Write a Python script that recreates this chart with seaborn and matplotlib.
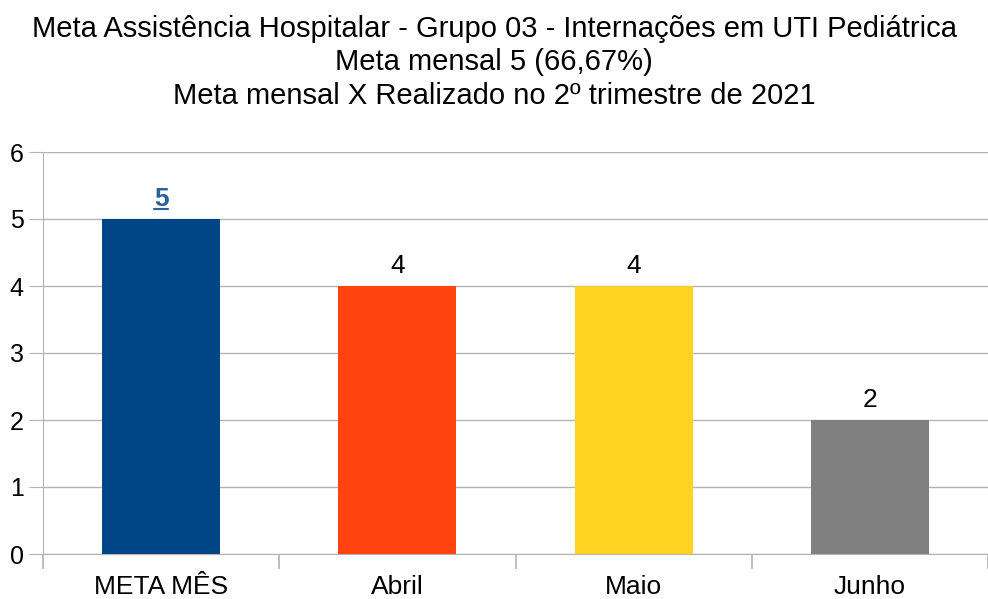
import matplotlib
matplotlib.use("Agg")
import pandas as pd
import seaborn as sns
from matplotlib import pyplot as plt
from matplotlib.ticker import FixedLocator
from matplotlib.lines import Line2D

categorias = ["META MÊS", "Abril", "Maio", "Junho"]
valores = [5, 4, 4, 2]
cores = ["#004586", "#ff420e", "#ffd320", "#808080"]
titulo = ("Meta Assistência Hospitalar - Grupo 03 - Internações em UTI Pediátrica\n"
          "Meta mensal 5 (66,67%)\n"
          "Meta mensal X Realizado no 2º trimestre de 2021")

sns.set_style("white")
plt.rcParams["font.family"] = ["Liberation Sans", "DejaVu Sans"]
plt.rcParams["text.color"] = "black"
plt.rcParams["xtick.color"] = "black"
plt.rcParams["ytick.color"] = "black"

df = pd.DataFrame({"cat": categorias, "val": valores})

fig = plt.figure(figsize=(9.88, 5.99), dpi=100)
ax = fig.add_axes([43 / 988, 1 - 554 / 599, 1 - 43 / 988, (554 - 152) / 599])
sns.barplot(data=df, x="cat", y="val", hue="cat", palette=cores, width=0.5,
            legend=False, saturation=1, linewidth=0, ax=ax)

ax.set_xlim(-0.5, 3.5)
ax.set_ylim(0, 6)
ax.set_yticks(range(0, 7))
ax.set_xlabel("")
ax.set_ylabel("")
ax.grid(axis="y", color="#b3b3b3", linewidth=1)
ax.set_axisbelow(True)
for s in ["top", "right"]:
    ax.spines[s].set_visible(False)
for s in ["left", "bottom"]:
    ax.spines[s].set_color("#b3b3b3")
ax.tick_params(axis="y", left=True, length=10, color="#b3b3b3", labelcolor="black",
               labelsize=18, pad=4)
ax.tick_params(axis="x", which="major", bottom=True, length=0, labelcolor="black",
               labelsize=19, pad=15)
ax.xaxis.set_minor_locator(FixedLocator([-0.5, 0.5, 1.5, 2.5, 3.5]))
ax.tick_params(axis="x", which="minor", bottom=True, length=11, width=1.2, color="#b3b3b3")

destaque = None
for i, v in enumerate(valores):
    if i == 0:
        destaque = ax.text(i, v + 0.12, str(v), ha="center", va="bottom",
                           fontsize=19, fontweight="bold", color="#2a6099")
    else:
        ax.text(i, v + 0.12, str(v), ha="center", va="bottom", fontsize=19)

fig.text(0.5, 0.975, titulo, ha="center", va="top", fontsize=21, linespacing=1.25)

# sublinhado do rótulo em destaque
fig.canvas.draw()
bb = destaque.get_window_extent().transformed(fig.transFigure.inverted())
fig.add_artist(Line2D([bb.x0, bb.x1], [bb.y0 + 0.004, bb.y0 + 0.004],
                      transform=fig.transFigure, color="#2a6099", linewidth=1.5))

fig.savefig("out.png", dpi=100)
